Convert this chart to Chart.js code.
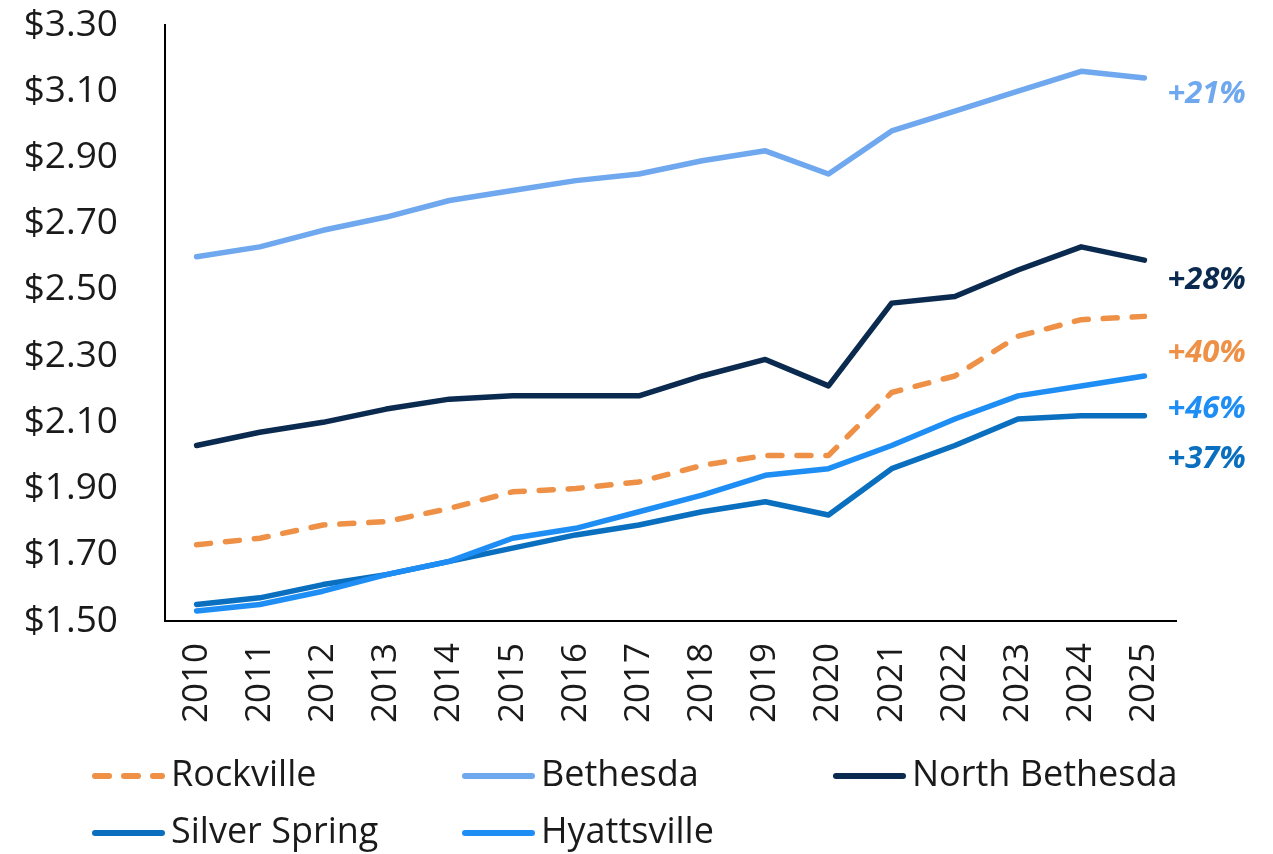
<!DOCTYPE html>
<html>
<head>
<meta charset="utf-8">
<script src="https://cdn.jsdelivr.net/npm/chart.js@4.4.0/dist/chart.umd.min.js"></script>
<style>
  body { margin:0; background:#fff; }
  #wrap { position:relative; width:1273px; height:854px; }
</style>
</head>
<body>
<div id="wrap"><canvas id="rentChart"></canvas></div>
<script>
const years = ['2010','2011','2012','2013','2014','2015','2016','2017','2018','2019','2020','2021','2022','2023','2024','2025'];

const rockville      = [1.73,1.75,1.79,1.80,1.84,1.89,1.90,1.92,1.97,2.00,2.00,2.19,2.24,2.36,2.41,2.42];
const bethesda       = [2.60,2.63,2.68,2.72,2.77,2.80,2.83,2.85,2.89,2.92,2.85,2.98,3.04,3.10,3.16,3.14];
const northBethesda  = [2.03,2.07,2.10,2.14,2.17,2.18,2.18,2.18,2.24,2.29,2.21,2.46,2.48,2.56,2.63,2.59];
const silverSpring   = [1.55,1.57,1.61,1.64,1.68,1.72,1.76,1.79,1.83,1.86,1.82,1.96,2.03,2.11,2.12,2.12];
const hyattsville    = [1.53,1.55,1.59,1.64,1.68,1.75,1.78,1.83,1.88,1.94,1.96,2.03,2.11,2.18,2.21,2.24];

// growth labels at the right end, with the value level they sit at
const growthText  = ['+21%','+28%','+40%','+46%','+37%'];
const growthLevel = [3.09, 2.53, 2.31, 2.14, 1.99];
const growthColor = ['#6FA8EE','#0B2A4F','#EE9147','#1E8EF5','#0A6FBE'];

const seriesNames  = ['Rockville','Bethesda','North Bethesda','Silver Spring','Hyattsville'];
const seriesData   = [rockville, bethesda, northBethesda, silverSpring, hyattsville];
const seriesColors = ['#EE9147','#6FA8EE','#0B2A4F','#0A6FBE','#1E8EF5'];
const seriesDash   = [[14,15],[],[],[],[]];

const FONT = '"Open Sans", sans-serif';
const ink = '#1a1a1a';

const growthLabels = {
  id:'growthLabels',
  afterDatasetsDraw(chart){
    const {ctx, scales:{x, y}} = chart;
    ctx.save();
    ctx.font = `italic bold 31px ${FONT}`;
    ctx.textAlign = 'left';
    ctx.textBaseline = 'middle';
    const px = x.getPixelForValue(years.length - 1) + 23;
    growthText.forEach((t, i) => {
      ctx.fillStyle = growthColor[i];
      ctx.fillText(t, px, y.getPixelForValue(growthLevel[i]));
    });
    ctx.restore();
  }
};

// legend in three fixed columns, two rows, drawn below the axis labels
const gridLegend = {
  id:'gridLegend',
  afterDraw(chart){
    const {ctx} = chart;
    const colX = [92, 462, 833];
    ctx.save();
    ctx.font = `36px ${FONT}`;
    ctx.textBaseline = 'middle';
    ctx.textAlign = 'left';
    seriesNames.forEach((n, i) => {
      const x0 = colX[i % 3];
      const yy = 776 + Math.floor(i / 3) * 57;
      ctx.strokeStyle = seriesColors[i];
      ctx.lineWidth = 6;
      ctx.lineCap = 'round';
      ctx.setLineDash(seriesDash[i]);
      ctx.beginPath(); ctx.moveTo(x0 + 3, yy); ctx.lineTo(x0 + 70, yy); ctx.stroke();
      ctx.setLineDash([]);
      ctx.fillStyle = ink;
      ctx.fillText(n, x0 + 79, yy);
    });
    ctx.restore();
  }
};

new Chart(document.getElementById('rentChart'), {
  type:'line',
  data:{
    labels:years,
    datasets:seriesNames.map((n, i) => ({
      label:n, data:seriesData[i], borderColor:seriesColors[i], backgroundColor:seriesColors[i],
      borderWidth:5.5, borderDash:seriesDash[i], borderCapStyle:'round', borderJoinStyle:'round',
      pointRadius:0, tension:0, fill:false
    })).reverse()
  },
  options:{
    responsive:true, maintainAspectRatio:false, animation:false,
    layout:{ padding:{ left:22, right:97, top:25, bottom:114 } },
    plugins:{ legend:{ display:false }, tooltip:{ enabled:false } },
    scales:{
      x:{
        offset:true,
        grid:{ display:false, drawTicks:false },
        border:{ color:'#000', width:2 },
        ticks:{ color:ink, font:{ family:FONT, size:35 }, minRotation:90, maxRotation:90, padding:22 },
        afterFit(s){ s.height = 119; s.paddingLeft = 0; s.paddingRight = 0; }
      },
      y:{
        min:1.5, max:3.3,
        grid:{ display:false, drawTicks:false },
        border:{ color:'#000', width:2 },
        ticks:{ stepSize:0.2, color:ink, font:{ family:FONT, size:37 }, padding:47,
          callback:v => '$' + Number(v).toFixed(2) },
        afterFit(s){ s.width = 143; s.paddingTop = 0; s.paddingBottom = 0; }
      }
    }
  },
  plugins:[growthLabels, gridLegend]
});
</script>
</body>
</html>
